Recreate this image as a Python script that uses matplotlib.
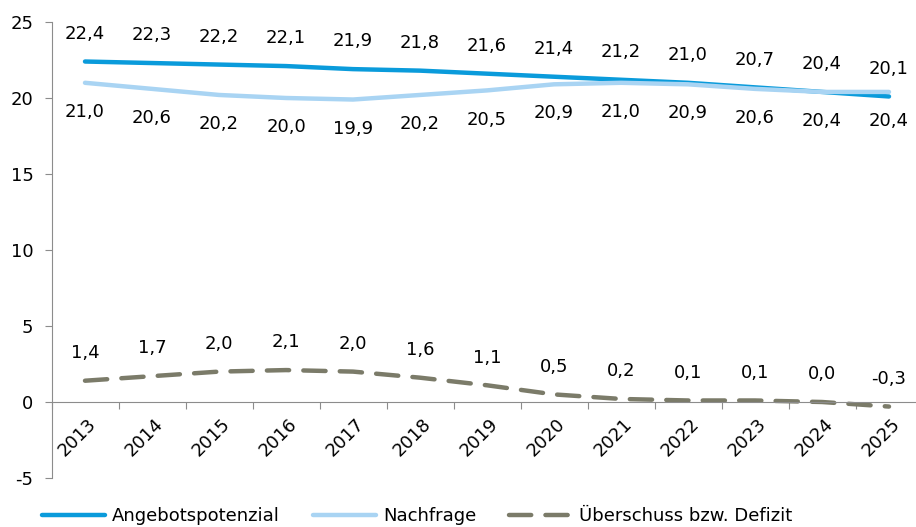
import numpy as np
import matplotlib.pyplot as plt

# chart data
years = ['2013', '2014', '2015', '2016', '2017', '2018', '2019',
         '2020', '2021', '2022', '2023', '2024', '2025']
angebot = [22.4, 22.3, 22.2, 22.1, 21.9, 21.8, 21.6, 21.4, 21.2, 21.0, 20.7, 20.4, 20.1]
nachfrage = [21.0, 20.6, 20.2, 20.0, 19.9, 20.2, 20.5, 20.9, 21.0, 20.9, 20.6, 20.4, 20.4]
saldo = [1.4, 1.7, 2.0, 2.1, 2.0, 1.6, 1.1, 0.5, 0.2, 0.1, 0.1, 0.0, -0.3]

yTicks = [-5, 0, 5, 10, 15, 20, 25]

colAngebot = '#0A9BDB'
colNachfrage = '#A9D4F3'
colSaldo = '#7B7B69'

fs = 13

def fmt(v):
    return '{:.1f}'.format(v).replace('.', ',')

plt.rcParams['font.family'] = 'DejaVu Sans'
plt.rcParams['axes.unicode_minus'] = False

fig = plt.figure(figsize=(9.16, 5.27), dpi=100)
ax = fig.add_axes([51.5 / 916, 1 - 478 / 527, 871 / 916, (478 - 22) / 527])

x = np.arange(len(years))
ax.plot(x, angebot, color=colAngebot, lw=3.2, solid_capstyle='round', label='Angebotspotenzial')
ax.plot(x, nachfrage, color=colNachfrage, lw=3.2, solid_capstyle='round', label='Nachfrage')
ax.plot(x, saldo, color=colSaldo, lw=3.2, dashes=(5, 3.2), dash_capstyle='round', label='Überschuss bzw. Defizit')

# data labels
for i in range(len(years)):
    ax.annotate(fmt(angebot[i]), (x[i], angebot[i]), xytext=(0, 20), textcoords='offset points',
                ha='center', va='center', fontsize=fs)
    ax.annotate(fmt(nachfrage[i]), (x[i], nachfrage[i]), xytext=(0, -21), textcoords='offset points',
                ha='center', va='center', fontsize=fs)
    ax.annotate(fmt(saldo[i]), (x[i], saldo[i]), xytext=(0, 20), textcoords='offset points',
                ha='center', va='center', fontsize=fs)

ax.set_xlim(-0.5, len(years) - 0.5)
ax.set_ylim(-5, 25)
ax.set_yticks(yTicks)
ax.tick_params(axis='y', length=5, color='#8C8C8C', pad=8, labelsize=fs)

# tick marks between categories, year labels drawn as rotated text under the zero line
ax.set_xticks(np.arange(-0.5, len(years), 1))
ax.tick_params(axis='x', length=5, color='#8C8C8C', direction='out', labelbottom=False)
for i in range(len(years)):
    ax.annotate(years[i], (x[i], 0), xytext=(1.5, -9), textcoords='offset points',
                rotation=45, ha='right', va='top', rotation_mode='anchor', fontsize=fs)

for s in ['top', 'right']:
    ax.spines[s].set_visible(False)
ax.spines['bottom'].set_position(('data', 0))
ax.spines['bottom'].set_color('#8C8C8C')
ax.spines['left'].set_color('#8C8C8C')

fig.legend(loc='lower left', bbox_to_anchor=(0.028, -0.027), ncol=3, frameon=False,
           fontsize=fs, handlelength=3.5, columnspacing=1.8, handletextpad=0.4)

plt.savefig('out.png', dpi=100)
